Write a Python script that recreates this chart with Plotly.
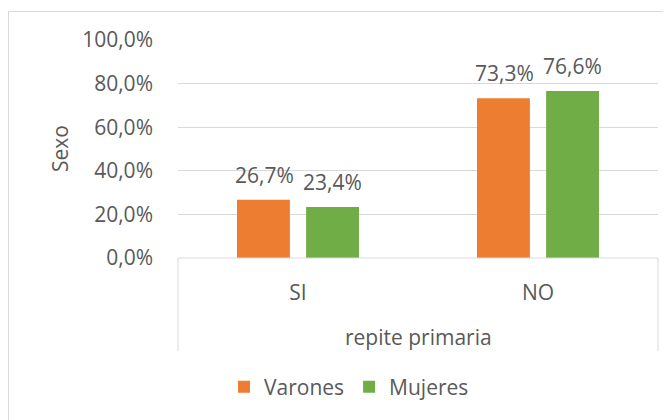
import plotly.graph_objects as go

categories = ["SI", "NO"]
varones = [0.267, 0.733]
mujeres = [0.234, 0.766]
series_names = ["Varones", "Mujeres"]
y_ticks = [0, 0.2, 0.4, 0.6, 0.8, 1.0]
x_title = "repite primaria"
y_title = "Sexo"

# page body has an 8px default margin; compensate so the figure lands at the reference spot
OFF = 8
W, H = 671 - OFF, 420 - OFF
L, R, T, B = 178 - OFF, 21 - OFF, 40 - OFF, 162
pw, ph = W - L - R, H - T - B

FONT = "Open Sans, Carlito, Lato, sans-serif"
FS = 21
TXT = "#595959"
GRID = "#D9D9D9"

def px_x(p):
    return (p - OFF - L) / pw

def px_y(p):
    return (H - B - (p - OFF)) / ph

fig = go.Figure()
fig.add_trace(go.Bar(x=categories, y=varones, name=series_names[0],
                     marker=dict(color="#ED7D31", line=dict(width=0))))
fig.add_trace(go.Bar(x=categories, y=mujeres, name=series_names[1],
                     marker=dict(color="#70AD47", line=dict(width=0))))

annotations = []
for vals, shift in ((varones, -34), (mujeres, 34)):
    for c, v in zip(categories, vals):
        annotations.append(dict(x=c, y=v, xref="x", yref="y", xshift=shift, yshift=25,
                                text=f"{v*100:.1f}%".replace(".", ","), showarrow=False,
                                font=dict(family=FONT, size=FS, color=TXT),
                                xanchor="center", yanchor="middle"))
annotations.append(dict(x=0.5, y=px_y(337), xref="paper", yref="paper", text=x_title,
                        showarrow=False, font=dict(family=FONT, size=FS, color=TXT),
                        xanchor="center", yanchor="middle"))
annotations.append(dict(x=px_x(60), y=px_y(149), xref="paper", yref="paper", text=y_title,
                        textangle=-90, showarrow=False,
                        font=dict(family=FONT, size=FS, color=TXT),
                        xanchor="center", yanchor="middle"))

line = dict(color=GRID, width=1)
shapes = [
    # chart border
    dict(type="rect", xref="paper", yref="paper", x0=px_x(8.5), x1=px_x(690),
         y0=px_y(440), y1=px_y(11.5), line=line, fillcolor="rgba(0,0,0,0)", layer="below"),
    # axis line
    dict(type="line", xref="paper", yref="paper", x0=0, x1=1, y0=0, y1=0, line=line),
    # category box sides
    dict(type="line", xref="paper", yref="paper", x0=0, x1=0, y0=0, y1=px_y(351), line=line),
    dict(type="line", xref="paper", yref="paper", x0=1, x1=1, y0=0, y1=px_y(351), line=line),
]

fig.update_layout(
    width=W, height=H,
    margin=dict(l=L, r=R, t=T, b=B, autoexpand=False),
    paper_bgcolor="white", plot_bgcolor="white",
    separators=",.",
    barmode="group", bargap=0.424, bargroupgap=0.235,
    font=dict(family=FONT, size=FS, color=TXT),
    xaxis=dict(showgrid=False, zeroline=False, showline=False, ticks="",
               ticklabelstandoff=20, tickfont=dict(family=FONT, size=FS, color=TXT)),
    yaxis=dict(range=[0, 1], tickvals=y_ticks, tickformat=".1%", showgrid=True,
               gridcolor=GRID, gridwidth=1, zeroline=False, showline=False, ticks="",
               ticklabelstandoff=24, tickfont=dict(family=FONT, size=FS, color=TXT)),
    legend=dict(orientation="h", xref="container", yref="container",
                x=(349 - OFF) / W, y=1 - (387 - OFF) / H,
                xanchor="center", yanchor="middle",
                font=dict(family=FONT, size=FS, color=TXT), itemwidth=30,
                traceorder="normal"),
    annotations=annotations,
    shapes=shapes,
    showlegend=True,
)

fig.write_html("out.html")
